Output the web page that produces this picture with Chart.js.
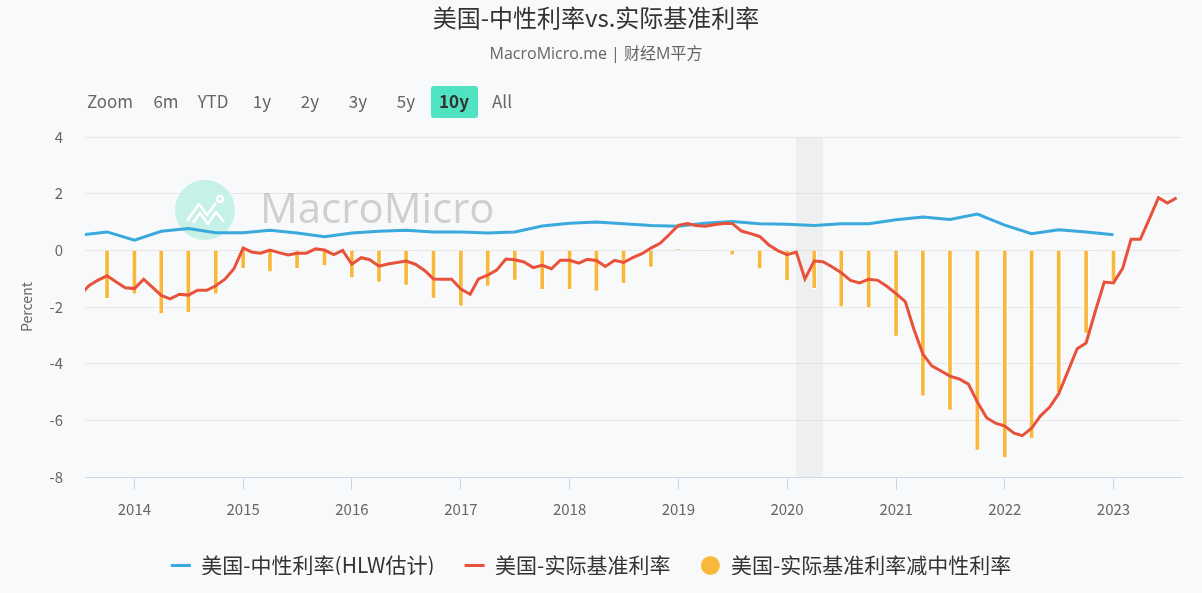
<!DOCTYPE html>
<html>
<head>
<meta charset="utf-8">
<script src="https://cdn.jsdelivr.net/npm/chart.js@4.4.0/dist/chart.umd.min.js"></script>
<style>
  html, body { margin: 0; padding: 0; background: #f8f9fb; }
  #wrap { position: relative; width: 1202px; height: 593px; }
</style>
</head>
<body>
<div id="wrap"><canvas id="myChart"></canvas></div>
<script>
// 标题
const titleText = '美国-中性利率vs.实际基准利率';
const subtitleText = 'MacroMicro.me | 财经M平方';
const rangeButtons = ['Zoom', '6m', 'YTD', '1y', '2y', '3y', '5y', '10y', 'All'];

// 月度: 美国-实际基准利率
const months = [
  '2013-07', '2013-08', '2013-09', '2013-10', '2013-11', '2013-12',
  '2014-01', '2014-02', '2014-03', '2014-04', '2014-05', '2014-06', '2014-07', '2014-08', '2014-09', '2014-10', '2014-11', '2014-12',
  '2015-01', '2015-02', '2015-03', '2015-04', '2015-05', '2015-06', '2015-07', '2015-08', '2015-09', '2015-10', '2015-11', '2015-12',
  '2016-01', '2016-02', '2016-03', '2016-04', '2016-05', '2016-06', '2016-07', '2016-08', '2016-09', '2016-10', '2016-11', '2016-12',
  '2017-01', '2017-02', '2017-03', '2017-04', '2017-05', '2017-06', '2017-07', '2017-08', '2017-09', '2017-10', '2017-11', '2017-12',
  '2018-01', '2018-02', '2018-03', '2018-04', '2018-05', '2018-06', '2018-07', '2018-08', '2018-09', '2018-10', '2018-11', '2018-12',
  '2019-01', '2019-02', '2019-03', '2019-04', '2019-05', '2019-06', '2019-07', '2019-08', '2019-09', '2019-10', '2019-11', '2019-12',
  '2020-01', '2020-02', '2020-03', '2020-04', '2020-05', '2020-06', '2020-07', '2020-08', '2020-09', '2020-10', '2020-11', '2020-12',
  '2021-01', '2021-02', '2021-03', '2021-04', '2021-05', '2021-06', '2021-07', '2021-08', '2021-09', '2021-10', '2021-11', '2021-12',
  '2022-01', '2022-02', '2022-03', '2022-04', '2022-05', '2022-06', '2022-07', '2022-08', '2022-09', '2022-10', '2022-11', '2022-12',
  '2023-01', '2023-02', '2023-03', '2023-04', '2023-05', '2023-06', '2023-07', '2023-08'
];
const realRate = [
  -1.60, -1.25, -1.05, -0.90, -1.12, -1.32,
  -1.35, -1.02, -1.29, -1.59, -1.71, -1.55, -1.58, -1.41, -1.41, -1.25, -1.02, -0.65,
  0.08, -0.07, -0.10, 0.01, -0.08, -0.16, -0.10, -0.10, 0.05, 0.01, -0.15, 0.00,
  -0.49, -0.26, -0.33, -0.56, -0.48, -0.43, -0.38, -0.49, -0.71, -1.01, -1.02, -1.02,
  -1.37, -1.55, -1.01, -0.88, -0.70, -0.31, -0.33, -0.41, -0.61, -0.53, -0.65, -0.35,
  -0.35, -0.45, -0.32, -0.36, -0.57, -0.35, -0.43, -0.26, -0.12, 0.08, 0.25, 0.55,
  0.88, 0.95, 0.88, 0.85, 0.90, 0.95, 0.95, 0.68, 0.59, 0.49, 0.19, -0.01,
  -0.15, -0.06, -1.01, -0.38, -0.40, -0.59, -0.79, -1.06, -1.15, -1.02, -1.06, -1.27,
  -1.53, -1.81, -2.76, -3.66, -4.08, -4.26, -4.44, -4.54, -4.72, -5.35, -5.91, -6.10,
  -6.20, -6.45, -6.54, -6.28, -5.84, -5.53, -5.06, -4.27, -3.47, -3.27, -2.15, -1.12,
  -1.15, -0.63, 0.39, 0.39, 1.10, 1.86, 1.67, 1.85
];

// 季度: 美国-中性利率(HLW估计) 与 差值
const quarters = [
  '2013-07', '2013-10',
  '2014-01', '2014-04', '2014-07', '2014-10',
  '2015-01', '2015-04', '2015-07', '2015-10',
  '2016-01', '2016-04', '2016-07', '2016-10',
  '2017-01', '2017-04', '2017-07', '2017-10',
  '2018-01', '2018-04', '2018-07', '2018-10',
  '2019-01', '2019-04', '2019-07', '2019-10',
  '2020-01', '2020-04', '2020-07', '2020-10',
  '2021-01', '2021-04', '2021-07', '2021-10',
  '2022-01', '2022-04', '2022-07', '2022-10',
  '2023-01'
];
const neutralRate = [
  0.54, 0.65,
  0.36, 0.67, 0.77, 0.62,
  0.62, 0.71, 0.61, 0.48,
  0.61, 0.67, 0.71, 0.65,
  0.65, 0.61, 0.65, 0.86,
  0.96, 1.00, 0.94, 0.88,
  0.85, 0.96, 1.02, 0.94,
  0.92, 0.88, 0.94, 0.94,
  1.08, 1.18, 1.09, 1.28,
  0.89, 0.59, 0.73, 0.65,
  0.55
];
const rateGap = [
  null, -1.71,
  -1.55, -2.24, -2.20, -1.55,
  -0.65, -0.76, -0.65, -0.55,
  -0.97, -1.13, -1.24, -1.71,
  -1.98, -1.27, -1.06, -1.39,
  -1.39, -1.45, -1.18, -0.60,
  0.03, -0.02, -0.17, -0.66,
  -1.08, -1.35, -2.00, -2.04,
  -3.04, -5.15, -5.65, -7.06,
  -7.33, -6.65, -5.02, -2.93,
  -1.10
];

// x轴刻度 (年份) 与 衰退区间
const yearTicks = [2014, 2015, 2016, 2017, 2018, 2019, 2020, 2021, 2022, 2023];
const recession = ['2020-02-01', '2020-04-30'];

const FONT = '"Noto Sans CJK SC", "Noto Sans", sans-serif';
const LATIN = '"Open Sans", "Noto Sans CJK SC", sans-serif';
Chart.defaults.font.family = FONT;

const toTime = s => {
  const p = s.split('-').map(Number);
  return Date.UTC(p[0], p[1] - 1, p[2] || 1);
};

// 标题・按钮・水印・阴影区
const decor = {
  id: 'decor',
  beforeDraw(chart) {
    const ctx = chart.ctx;
    ctx.save();
    ctx.textAlign = 'center';
    ctx.textBaseline = 'middle';
    ctx.fillStyle = '#333333';
    ctx.font = '24px ' + FONT;
    ctx.fillText(titleText, 596, 18);
    ctx.fillStyle = '#666666';
    ctx.font = '16px ' + LATIN;
    ctx.fillText(subtitleText, 596, 54);

    const centers = [110, 166, 213, 262, 310, 358, 406, 454, 502];
    rangeButtons.forEach((b, i) => {
      if (b === '10y') {
        ctx.fillStyle = '#4fe3c1';
        ctx.beginPath();
        ctx.roundRect(431, 86, 47, 32, 3);
        ctx.fill();
        ctx.fillStyle = '#333333';
        ctx.font = 'bold 17px ' + FONT;
      } else {
        ctx.fillStyle = '#666666';
        ctx.font = '17px ' + FONT;
      }
      ctx.fillText(b, centers[i], 102);
    });
    ctx.restore();
  },
  beforeDatasetsDraw(chart) {
    const { ctx, chartArea, scales: { x } } = chart;
    ctx.save();
    const x0 = x.getPixelForValue(toTime(recession[0]));
    const x1 = x.getPixelForValue(toTime(recession[1]));
    ctx.fillStyle = 'rgba(215,215,215,0.3)';
    ctx.fillRect(x0, chartArea.top, x1 - x0, chartArea.bottom - chartArea.top);

    // 水印
    ctx.fillStyle = '#c6f1e6';
    ctx.beginPath();
    ctx.arc(205, 210, 30, 0, Math.PI * 2);
    ctx.fill();
    ctx.strokeStyle = '#ffffff';
    ctx.lineWidth = 2.5;
    ctx.lineJoin = 'round';
    ctx.beginPath();
    ctx.moveTo(187, 221); ctx.lineTo(199, 204); ctx.lineTo(207, 215); ctx.lineTo(216, 203);
    ctx.moveTo(193, 223); ctx.lineTo(200, 213); ctx.lineTo(208, 224); ctx.lineTo(216, 212); ctx.lineTo(224, 222);
    ctx.stroke();
    ctx.beginPath();
    ctx.arc(220, 199, 3, 0, Math.PI * 2);
    ctx.stroke();
    ctx.fillStyle = 'rgba(150,150,150,0.42)';
    ctx.font = '42px "Open Sans", sans-serif';
    ctx.textAlign = 'left';
    ctx.textBaseline = 'middle';
    ctx.fillText('MacroMicro', 260, 211);
    ctx.restore();
  }
};

const myChart = new Chart(document.getElementById('myChart'), {
  type: 'line',
  data: {
    datasets: [
      {
        label: '美国-中性利率(HLW估计)',
        data: quarters.map((q, i) => ({ x: toTime(q), y: neutralRate[i] })),
        borderColor: '#3aa9db',
        backgroundColor: '#3aa9db',
        borderWidth: 3,
        pointRadius: 0,
        pointStyle: 'line',
        tension: 0,
        order: 2
      },
      {
        label: '美国-实际基准利率',
        data: months.map((m, i) => ({ x: toTime(m), y: realRate[i] })),
        borderColor: '#e8523b',
        backgroundColor: '#e8523b',
        borderWidth: 3,
        pointRadius: 0,
        pointStyle: 'line',
        tension: 0,
        order: 1
      },
      {
        type: 'bar',
        label: '美国-实际基准利率减中性利率',
        data: quarters.map((q, i) => ({ x: toTime(q), y: rateGap[i] })),
        backgroundColor: '#f8b83c',
        borderColor: '#ffffff',
        borderWidth: 1,
        barThickness: 5,
        pointStyle: 'circle',
        order: 3
      }
    ]
  },
  options: {
    responsive: true,
    maintainAspectRatio: false,
    animation: false,
    layout: { padding: { top: 137, right: 20, bottom: 18, left: 0 } },
    plugins: {
      tooltip: { enabled: false },
      legend: {
        position: 'bottom',
        maxHeight: 50,
        labels: {
          usePointStyle: true,
          pointStyleWidth: 20,
          boxHeight: 14,
          padding: 30,
          color: '#333333',
          font: { size: 21, family: FONT },
          sort: (a, b) => a.datasetIndex - b.datasetIndex
        }
      }
    },
    scales: {
      x: {
        type: 'linear',
        min: toTime('2013-07-19'),
        max: toTime('2023-08-19'),
        offset: false,
        afterBuildTicks: s => { s.ticks = yearTicks.map(y => ({ value: Date.UTC(y, 0, 1) })); },
        afterFit: s => { s.height = 48; },
        grid: { display: true, drawOnChartArea: false, drawTicks: true, tickLength: 13, tickColor: '#ccd6eb', offset: false },
        border: { display: true, color: '#ccd6eb' },
        ticks: {
          callback: v => new Date(v).getUTCFullYear(),
          color: '#666666',
          font: { size: 15 },
          padding: 10,
          maxRotation: 0,
          autoSkip: false
        }
      },
      y: {
        min: -8,
        max: 4,
        afterFit: s => { s.width = 85; },
        ticks: { stepSize: 2, color: '#666666', font: { size: 15 }, padding: 22 },
        grid: { color: '#e6e6e6', drawTicks: false },
        border: { display: false },
        title: { display: true, text: 'Percent', color: '#666666', font: { size: 14 }, padding: { top: 18, bottom: 0 } }
      }
    }
  },
  plugins: [decor]
});
</script>
</body>
</html>
